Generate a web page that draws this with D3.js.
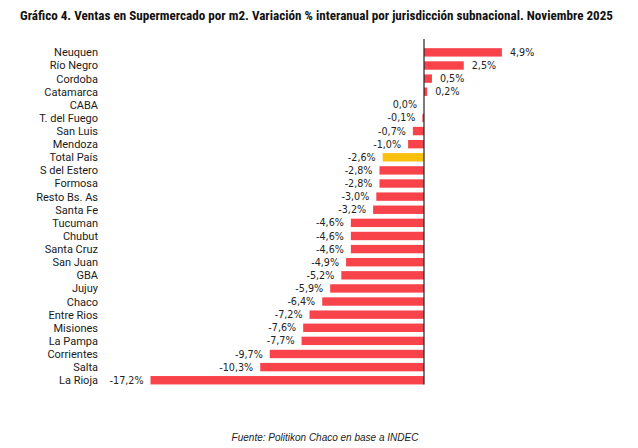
<!DOCTYPE html>
<html><head><meta charset="utf-8">
<script src="https://cdn.jsdelivr.net/npm/d3@7/dist/d3.min.js"></script>
<style>body{margin:0;background:#fff}svg{display:block}</style>
</head><body>
<svg id="c" width="638" height="448"></svg>
<script>
const categories = ["Neuquen","Río Negro","Cordoba","Catamarca","CABA","T. del Fuego","San Luis","Mendoza","Total País","S del Estero","Formosa","Resto Bs. As","Santa Fe","Tucuman","Chubut","Santa Cruz","San Juan","GBA","Jujuy","Chaco","Entre Rios","Misiones","La Pampa","Corrientes","Salta","La Rioja"];
const values = [4.9,2.5,0.5,0.2,0.0,-0.1,-0.7,-1.0,-2.6,-2.8,-2.8,-3.0,-3.2,-4.6,-4.6,-4.6,-4.9,-5.2,-5.9,-6.4,-7.2,-7.6,-7.7,-9.7,-10.3,-17.2];
const highlight = ["Total País"];
const title = "Gráfico 4. Ventas en Supermercado por m2. Variación % interanual por jurisdicción subnacional. Noviembre 2025";
const source = "Fuente: Politikon Chaco en base a INDEC";

const data = categories.map((c,i)=>({c, v: values[i]}));
const svg = d3.select("#c");

const x = d3.scaleLinear().domain([-18, 6]).range([137.8, 519.4]);
const y = d3.scaleBand().domain(categories).range([39, 393.6]).paddingInner(0.36).paddingOuter(0.70);

const fmt = v => d3.format(".1f")(v).replace(".", ",").replace("−","-") + "%";

// title
const t = svg.append("text").attr("x", 20).attr("y", 20)
  .attr("font-family", "'Liberation Sans Narrow','Roboto Condensed','Liberation Sans',Arial,sans-serif")
  .attr("font-weight", "bold").attr("font-size", 12.5).attr("fill", "#111").text(title);
const tw = t.node().getComputedTextLength();
if (Math.abs(tw - 593) > 4) t.attr("textLength", 593).attr("lengthAdjust", "spacingAndGlyphs");

// bars
svg.append("g").selectAll("rect").data(data).join("rect")
  .attr("x", d => x(Math.min(0, d.v)))
  .attr("y", d => y(d.c))
  .attr("width", d => Math.abs(x(d.v) - x(0)))
  .attr("height", y.bandwidth())
  .attr("fill", d => highlight.includes(d.c) ? "#FBBF0E" : "#F8434A");

// zero axis
svg.append("line").attr("x1", x(0)).attr("x2", x(0))
  .attr("y1", y.range()[0]).attr("y2", y(categories[categories.length-1]) + y.bandwidth())
  .attr("stroke", "#222").attr("stroke-width", 1.2);

// category labels
svg.append("g").selectAll("text").data(data).join("text")
  .attr("x", 98).attr("y", d => y(d.c) + y.bandwidth()/2)
  .attr("dy", "0.36em").attr("text-anchor", "end")
  .attr("font-family", "Roboto, 'Liberation Sans', Arial, sans-serif")
  .attr("font-size", 11).attr("fill", "#1a1a1a")
  .text(d => d.c);

// value labels
svg.append("g").selectAll("text").data(data).join("text")
  .attr("x", d => d.v > 0 ? x(d.v) + 8 : x(d.v) - 7)
  .attr("y", d => y(d.c) + y.bandwidth()/2)
  .attr("dy", "0.37em")
  .attr("text-anchor", d => d.v > 0 ? "start" : "end")
  .attr("font-family", "'DejaVu Sans', Verdana, sans-serif")
  .attr("font-size", 9.6).attr("fill", "#222")
  .text(d => fmt(d.v));

// source
svg.append("text").attr("x", 325).attr("y", 441).attr("text-anchor", "middle")
  .attr("font-family", "'Liberation Sans', Arial, sans-serif").attr("font-style", "italic")
  .attr("font-size", 10).attr("fill", "#222").text(source);
</script>
</body></html>
